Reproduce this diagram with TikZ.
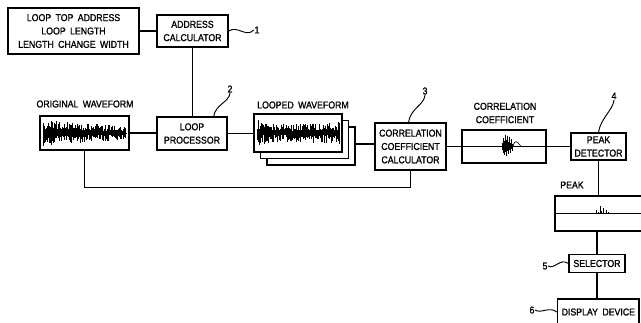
\documentclass[tikz,border=0pt]{standalone}
\usepackage{fontspec}
\setmainfont[FakeStretch=0.88, WordSpace=1.8, FakeBold=1.2]{Liberation Sans}
\usetikzlibrary{positioning, calc}
\newcommand{\blkfont}{\fontsize{8.5}{11.4}\selectfont}

\begin{document}
\begin{tikzpicture}[x=0.03cm, y=-0.03cm, line width=1.1pt,
    blk/.style={draw, align=center, inner sep=1pt, font=\blkfont},
    captxt/.style={font=\blkfont, inner sep=0pt, align=center},
    wave/.style={line width=0.5pt},
    tag/.style={line width=0.8pt}]

    \useasboundingbox (0,0) rectangle (641,322);
    \clip (0,0) rectangle (641,322);

    % Parameter box and address calculator
    \node[blk, minimum width=3.93cm, minimum height=1.38cm] (param) at (73.5,31)
        {LOOP TOP ADDRESS\\LOOP LENGTH\\LENGTH CHANGE WIDTH};
    \node[blk, minimum width=2.13cm, minimum height=0.96cm] (addr) at (192.5,31)
        {ADDRESS\\CALCULATOR};

    % Original waveform and loop processor
    \node[blk, minimum width=2.67cm, minimum height=1.02cm] (orig) at (84.5,133) {};
    \node[blk, minimum width=2.10cm, minimum height=0.99cm] (loop) at (192,133.5)
        {LOOP\\PROCESSOR};

    % Stack of looped waveforms (back to front)
    \node[blk, fill=white, minimum width=2.64cm, minimum height=1.14cm] (loopedC) at (311,146) {};
    \node[blk, fill=white, minimum width=2.64cm, minimum height=1.14cm] (loopedB) at (304.5,139.5) {};
    \node[blk, fill=white, minimum width=2.64cm, minimum height=1.14cm] (looped) at (298,133) {};

    % Correlation part
    \node[blk, minimum width=2.13cm, minimum height=1.41cm] (corrcalc) at (410.5,146.5)
        {CORRELATION\\COEFFICIENT\\CALCULATOR};
    \node[blk, minimum width=2.52cm, minimum height=0.99cm] (corrbox) at (504,146.5) {};
    \node[blk, minimum width=1.65cm, minimum height=0.81cm] (peakdet) at (598.5,146.5)
        {PEAK\\DETECTOR};

    % Peak, selector and display
    \node[blk, minimum width=3.15cm, minimum height=1.05cm] (peakbox) at (607.5,213.5) {};
    \node[blk, minimum width=1.68cm, minimum height=0.54cm] (selector) at (597,263.5) {SELECTOR};
    \node[blk, anchor=west, inner xsep=0.12cm, minimum height=0.78cm] (display) at (557,312)
        {DISPLAY DEVICE};

    % Captions
    \node[captxt] (origcap) at (85,104) {ORIGINAL WAVEFORM};
    \node[captxt] (loopedcap) at (303,105) {LOOPED WAVEFORM};
    \node[captxt] (corrcap) at (505,113) {CORRELATION\\COEFFICIENT};
    \node[captxt] (peakcap) at (572,185) {PEAK};

    % Reference numerals
    \node[captxt] (n1) at (257,30) {1};
    \node[captxt] (n2) at (230,89) {2};
    \node[captxt] (n3) at (425,91) {3};
    \node[captxt] (n4) at (614,96) {4};
    \node[captxt] (n5) at (545,266) {5};
    \node[captxt] (n6) at (532,310) {6};

    % Connecting wires
    \draw (param) -- (addr);
    \draw (addr.south) -- (addr.south |- loop.north);
    \draw (orig.east) -- (orig.east -| loop.west);
    \draw (loop.east) -- (loop.east -| looped.west);
    \draw ($(loopedC.east)+(0,-2)$) -- ($(loopedC.east -| corrcalc.west)+(0,-2)$);
    \draw (corrcalc) -- (corrbox);
    \draw (corrbox) -- (peakdet);
    \draw (orig.south) -- ++(0,37) -| (corrcalc.south);
    \draw (peakdet.south) -- (peakdet.south |- peakbox.north);
    \draw (peakbox.south -| selector.north) -- (selector.north);
    \draw (selector.south) -- (selector.south |- display.north);

    % Leader squiggles
    \draw[tag] (addr.east) .. controls +(9,-6) and +(-8,8) .. (n1.west);
    \draw[tag] ($(loop.north east)+(-14,0)$) .. controls +(2,-12) and +(-1,9) .. (n2.south);
    \draw[tag] ($(corrcalc.north)+(-2,0)$) .. controls +(2,-14) and +(-1,10) .. (n3.south);
    \draw[tag] (peakdet.north) .. controls +(2,-14) and +(-1,10) .. (n4.south);
    \draw[tag] (n5.east) .. controls +(6,4) and +(-8,-6) .. (selector.west);
    \draw[tag] (n6.east) .. controls +(6,4) and +(-8,-6) .. (display.west);

    % Original waveform trace
    \pgfmathsetseed{11}
    \draw[wave] (43,133) -- (127,133);
    \foreach \x in {43,...,125} {
        \pgfmathsetmacro\env{14-7*(\x-43)/82}
        \pgfmathsetmacro\hu{(0.25+0.75*rnd)*\env}
        \pgfmathsetmacro\hd{(0.2+0.8*rnd)*\env}
        \draw[wave] (\x,133-\hu) -- (\x,133+\hd);
    }

    % Looped waveform trace
    \pgfmathsetseed{23}
    \draw[wave] (257,133) -- (340,133);
    \foreach \x in {257,...,339} {
        \pgfmathsetmacro\env{8+6*exp(-(\x-257)/10)+3*(\x-257)/82}
        \pgfmathsetmacro\hu{(0.25+0.75*rnd)*\env}
        \pgfmathsetmacro\hd{(0.2+0.8*rnd)*\env}
        \draw[wave] (\x,133-\hu) -- (\x,133+\hd);
    }

    % Correlation coefficient trace
    \draw[wave] (corrbox.west) -- (corrbox.east);
    \foreach \x/\u/\d in {502/4/3, 503/9/6, 504/6/8, 505/12/5, 506/7/9, 507/11/4,
                          508/5/7, 509/10/3, 510/4/6, 511/8/2, 512/3/4} {
        \draw[wave] (\x,146.5-\u) -- (\x,146.5+\d);
    }
    \draw[wave] (513,146.5) .. controls (515,139) and (517,141) .. (521,146.5);

    % Peak trace
    \draw[wave] (peakbox.west) -- (peakbox.east);
    \foreach \x/\h in {593/1, 596/4, 598/2, 600/8, 601/3, 603/6, 606/4, 608/2, 611/1} {
        \draw[wave] (\x,213.5) -- (\x,213.5-\h);
    }

\end{tikzpicture}
\end{document}
